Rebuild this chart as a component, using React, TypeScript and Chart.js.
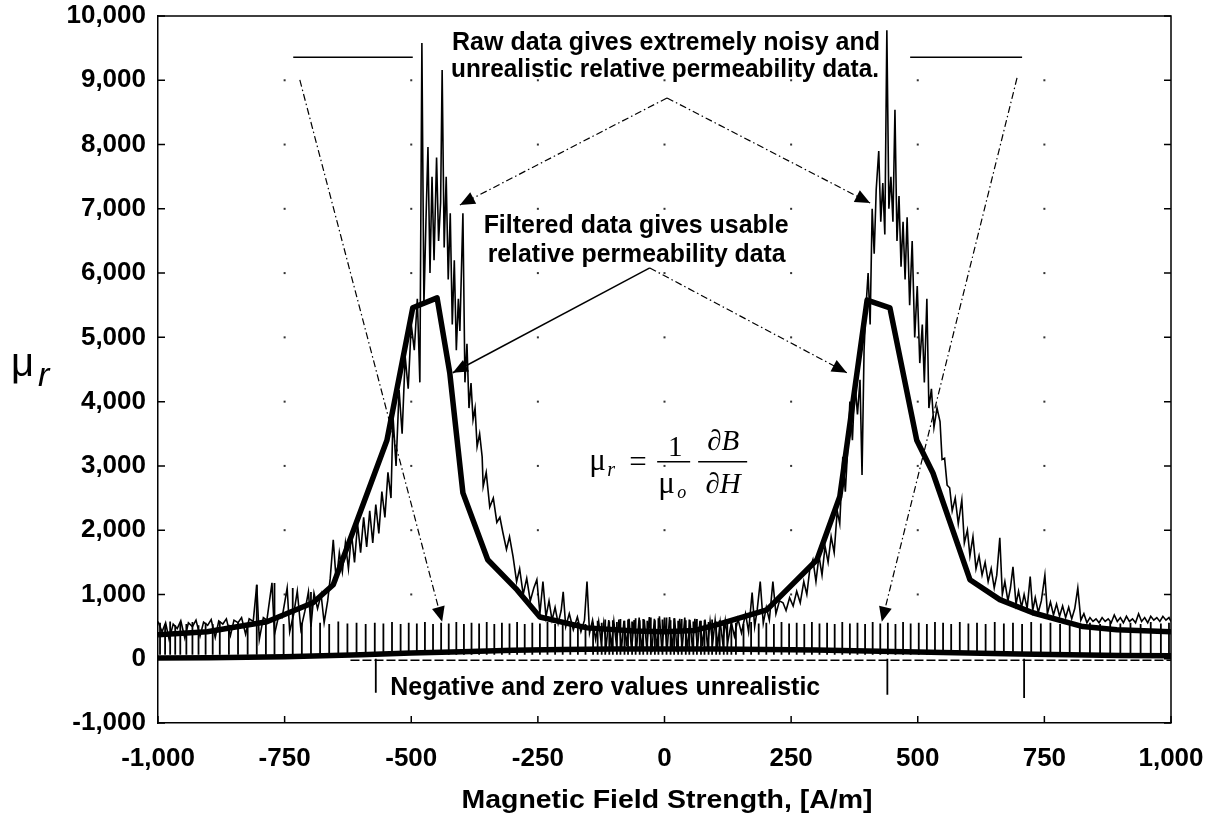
import React, { useEffect, useRef } from 'react';
import { Chart, registerables } from 'chart.js';
Chart.register(...registerables);

// ---------- data ----------
const xTickValues = [-1000, -750, -500, -250, 0, 250, 500, 750, 1000];
const yTickValues = [-1000, 0, 1000, 2000, 3000, 4000, 5000, 6000, 7000, 8000, 9000, 10000];

// filtered relative permeability (thick line)
const filteredH = [-1000, -903, -785, -694, -654, -548, -497, -449, -424, -398, -349, -291, -246, -153, -60, 0, 60, 104, 202, 301, 346, 400, 445, 498, 530, 603, 662, 727, 826, 893, 1000];
const filteredMu = [373, 420, 575, 870, 1150, 3400, 5460, 5615, 4450, 2580, 1540, 1070, 650, 480, 430, 420, 440, 530, 760, 1540, 2520, 5580, 5460, 3400, 2890, 1230, 920, 715, 500, 450, 420];

// smoothed near-zero values (thick line along the bottom)
const lowH = [-1000, -900, -750, -600, -500, -400, -300, -200, -100, 0, 100, 200, 300, 400, 500, 600, 700, 800, 900, 1000];
const lowMu = [10, 15, 30, 60, 90, 110, 130, 145, 150, 150, 150, 145, 135, 120, 105, 90, 75, 60, 50, 45];

// raw (noisy) relative permeability: [H, mu]
const rawPoints: [number, number][] = [
  [-1000, 580], [-992, 420], [-985, 560], [-978, 300], [-970, 540], [-962, 470], [-955, 590], [-947, 320], [-940, 560], [-932, 500],
  [-925, 600], [-917, 350], [-910, 570], [-902, 520], [-895, 610], [-887, 330], [-880, 590], [-872, 540], [-865, 620], [-857, 360],
  [-850, 600], [-842, 560], [-835, 640], [-827, 380], [-820, 620], [-812, 580], [-805, 1150], [-800, 300], [-792, 640], [-785, 600],
  [-775, 1180], [-770, 380], [-762, 660], [-755, 640], [-745, 1100], [-740, 420], [-732, 700], [-725, 1050], [-718, 460], [-710, 740],
  [-703, 1040], [-698, 500], [-692, 1020], [-685, 780], [-678, 1000], [-672, 560], [-665, 900], [-660, 1250],
  [-654, 1850], [-648, 1200], [-642, 1650], [-636, 1350], [-630, 1800], [-624, 1400], [-618, 1950], [-612, 1500], [-606, 2100], [-600, 1650],
  [-594, 2200], [-588, 1740], [-582, 2300], [-576, 1800], [-570, 2400], [-564, 1950], [-558, 2600], [-552, 2200], [-546, 2900], [-540, 2500],
  [-536, 3770], [-530, 3000], [-524, 4180], [-518, 3500], [-512, 4700], [-506, 4200], [-500, 5200], [-494, 4800], [-488, 5600], [-483, 4300],
  [-479, 9580], [-475, 5500], [-471, 6800], [-467, 7960], [-463, 6000], [-459, 7500], [-455, 6200], [-450, 7800], [-446, 6500], [-442, 7100],
  [-439, 9160], [-435, 6400], [-431, 7500], [-427, 5900], [-423, 6930], [-419, 5200], [-415, 6200], [-411, 4800], [-407, 5600], [-404, 5100],
  [-398, 6930], [-394, 4300], [-390, 4900], [-386, 3900], [-382, 4290], [-378, 3720], [-374, 3900], [-370, 3300], [-365, 3500], [-360, 3140],
  [-358, 2680], [-352, 2900], [-345, 2360], [-338, 2500], [-331, 2120], [-325, 2200], [-319, 1960], [-312, 1700], [-306, 1900], [-299, 1590],
  [-292, 1200], [-286, 1400], [-279, 1000], [-272, 1250], [-265, 900], [-258, 1100], [-252, 1230], [-246, 700], [-240, 1200], [-234, 650],
  [-228, 900], [-222, 600], [-216, 800], [-210, 550], [-204, 750], [-200, 1040], [-195, 500], [-188, 700], [-180, 450], [-172, 650],
  [-165, 420], [-158, 600], [-153, 1200], [-148, 400], [-142, 600], [-136, 300], [-130, 580],
  [-125, 250], [-120, 560], [-115, 200], [-110, 600], [-105, 180], [-100, 580], [-95, 220], [-90, 610], [-85, 150], [-80, 590],
  [-75, 200], [-70, 620], [-65, 130], [-60, 600], [-55, 170], [-50, 640], [-45, 120], [-40, 610], [-35, 160], [-30, 650],
  [-25, 100], [-20, 620], [-15, 140], [-10, 660], [-5, 110], [0, 640], [5, 120], [10, 650], [15, 150], [20, 630],
  [25, 100], [30, 620], [35, 170], [40, 640], [45, 130], [50, 600], [55, 180], [60, 620], [65, 160], [70, 590],
  [75, 200], [80, 610], [85, 180], [90, 580], [95, 230], [100, 600], [105, 210], [110, 570], [115, 250], [120, 590], [125, 260],
  [132, 560], [138, 350], [145, 620], [152, 400], [160, 700], [166, 420], [173, 1030], [178, 500], [183, 760], [189, 1200],
  [195, 550], [201, 800], [207, 600], [214, 1200], [220, 700], [227, 900], [234, 870], [240, 750], [247, 950], [254, 820],
  [261, 1050], [268, 870], [275, 1200], [281, 1000], [287, 1400], [293, 1540], [299, 1200], [305, 1600], [311, 1300], [317, 1750],
  [323, 1500], [329, 1900], [335, 1650], [341, 2300], [346, 2100], [352, 3140], [357, 2600], [362, 3300], [366, 4000], [371, 3400],
  [376, 4300], [381, 3800], [386, 4340], [390, 2860], [394, 4800], [398, 5500], [402, 6000], [406, 5200], [410, 7000], [414, 6300],
  [418, 7300], [423, 7900], [427, 6800], [431, 7400], [435, 6600], [439, 9780], [443, 7000], [447, 7500], [451, 6800], [455, 8540],
  [459, 6500], [463, 7200], [467, 6100], [471, 6800], [475, 5900], [479, 6870], [484, 5500], [489, 6500], [494, 5000], [499, 5800],
  [504, 4600], [509, 5200], [513, 4300], [518, 5600], [522, 3900], [527, 4200], [532, 3600], [538, 3900], [544, 3690], [548, 3100],
  [553, 3120], [558, 2700], [563, 2660], [568, 2300], [574, 2500], [580, 2100], [587, 2470], [592, 1800], [598, 2000], [603, 1600],
  [609, 1900], [615, 1400], [621, 1600], [627, 1300], [633, 1500], [639, 1200], [645, 1400], [651, 1100], [656, 1300], [662, 1880],
  [667, 1000], [672, 1200], [678, 900], [683, 1100], [688, 1430], [694, 850], [699, 1050], [705, 800], [710, 1000], [716, 780],
  [722, 1280], [727, 750], [732, 950], [738, 720], [744, 900], [751, 1300], [756, 700], [762, 880], [768, 680], [774, 850],
  [780, 660], [786, 820], [792, 640], [798, 800], [804, 620], [810, 780], [816, 1100], [822, 600], [828, 700], [834, 560],
  [840, 640], [846, 580], [852, 620], [858, 560], [864, 640], [870, 580], [876, 620], [882, 560], [888, 680], [894, 580],
  [900, 640], [906, 560], [912, 660], [918, 580], [924, 620], [930, 560], [936, 700], [942, 580], [948, 640], [954, 560],
  [960, 660], [966, 600], [972, 640], [978, 580], [984, 660], [990, 600], [996, 640], [1000, 580],
];

// comb of raw spikes rising from the near-zero values: [H, top mu]
const combSpikes: [number, number][] = [
  [-996, 560], [-986, 540], [-976, 580], [-966, 520], [-956, 560], [-944, 540], [-932, 570], [-920, 520], [-906, 560], [-892, 540],
  [-878, 580], [-860, 530], [-842, 560], [-823, 540], [-805, 1150], [-787, 560], [-770, 1180], [-752, 540], [-734, 1100], [-716, 560],
  [-698, 1040], [-680, 560], [-662, 540], [-644, 580], [-626, 550], [-608, 560], [-590, 540], [-572, 560], [-555, 550], [-538, 570],
  [-521, 540], [-505, 560], [-489, 550], [-473, 570], [-457, 540], [-441, 560], [-426, 550], [-411, 570], [-396, 540], [-381, 560],
  [-366, 550], [-351, 570], [-336, 540], [-321, 560], [-306, 550], [-291, 570], [-276, 540], [-261, 560], [-246, 550], [-231, 570],
  [-216, 540], [-201, 560], [-186, 550], [-171, 570], [-156, 540], [-141, 560],
  [-132, 590], [-124, 560], [-117, 610], [-109, 580], [-102, 600], [-94, 570], [-87, 620], [-79, 590], [-72, 610], [-64, 580],
  [-57, 630], [-49, 600], [-42, 620], [-34, 590], [-27, 640], [-19, 600], [-12, 630], [-4, 610], [4, 640], [12, 600],
  [19, 630], [27, 590], [34, 620], [42, 600], [49, 610], [57, 580], [64, 620], [72, 590], [79, 600], [87, 570],
  [94, 610], [102, 580], [109, 600], [117, 570], [124, 590], [132, 560],
  [141, 560], [156, 540], [171, 570], [186, 550], [201, 560], [216, 540], [231, 570], [246, 550], [261, 560], [276, 540],
  [291, 570], [306, 550], [321, 560], [336, 540], [351, 570], [366, 550], [381, 560], [396, 540], [411, 570], [426, 550],
  [441, 560], [456, 540], [471, 570], [486, 550], [502, 560], [518, 540], [534, 570], [550, 560], [566, 540], [583, 570],
  [600, 550], [617, 560], [634, 540], [652, 570], [670, 550], [688, 560], [706, 540], [724, 570], [743, 550], [762, 560],
  [781, 540], [800, 570], [820, 550], [840, 560], [860, 540], [880, 570], [900, 550], [920, 560], [940, 540], [960, 570],
  [980, 550], [996, 560],
];
const combBaseMu = 60;

// isolated negative raw values: [H, mu]
const negativeSpikes: [number, number][] = [[-570, -530], [440, -560], [710, -610]];
const negativeDashH = [-620, 1000];
const negativeDashMu = [-25, -25];

// ---------- helpers ----------
const fmt = (v: number) => v.toLocaleString('en-US');

const spikeData = (spikes: [number, number][], base: number) => {
  const out: { x: number; y: number | null }[] = [];
  spikes.forEach(([h, top]) => {
    out.push({ x: h, y: base });
    out.push({ x: h, y: top });
    out.push({ x: h, y: null });
  });
  return out;
};

function centeredText(ctx: CanvasRenderingContext2D, s: string, cx: number, by: number, font: string, width?: number) {
  ctx.save();
  ctx.font = font;
  const w = ctx.measureText(s).width;
  ctx.translate(cx, by);
  if (width) ctx.scale(width / w, 1);
  ctx.textAlign = 'center';
  ctx.textBaseline = 'alphabetic';
  ctx.fillText(s, 0, 0);
  ctx.restore();
}

function arrow(ctx: CanvasRenderingContext2D, x0: number, y0: number, x1: number, y1: number, dash: number[], lw = 1.2) {
  ctx.save();
  ctx.setLineDash(dash);
  ctx.lineWidth = lw;
  ctx.beginPath();
  ctx.moveTo(x0, y0);
  ctx.lineTo(x1, y1);
  ctx.stroke();
  ctx.setLineDash([]);
  const ang = Math.atan2(y1 - y0, x1 - x0);
  const len = 15, half = 6.5;
  ctx.beginPath();
  ctx.moveTo(x1, y1);
  ctx.lineTo(x1 - len * Math.cos(ang) + half * Math.sin(ang), y1 - len * Math.sin(ang) - half * Math.cos(ang));
  ctx.lineTo(x1 - len * Math.cos(ang) - half * Math.sin(ang), y1 - len * Math.sin(ang) + half * Math.cos(ang));
  ctx.closePath();
  ctx.fill();
  ctx.restore();
}

const decorPlugin = {
  id: 'decor',
  beforeDatasetsDraw(chart: any) {
    const { ctx, scales } = chart;
    const X = (v: number) => scales.x.getPixelForValue(v);
    const Y = (v: number) => scales.y.getPixelForValue(v);
    ctx.save();
    ctx.fillStyle = '#333';
    xTickValues.slice(1, -1).forEach((h) => {
      yTickValues.filter((v) => v >= 1000 && v <= 9000).forEach((v) => {
        ctx.fillRect(X(h) - 1, Y(v) - 1, 2, 2);
      });
    });
    ctx.restore();
  },
  afterDatasetsDraw(chart: any) {
    const { ctx, chartArea: a, scales } = chart;
    const X = (v: number) => scales.x.getPixelForValue(v);
    const Y = (v: number) => scales.y.getPixelForValue(v);
    ctx.save();
    ctx.strokeStyle = '#000';
    ctx.fillStyle = '#000';
    // frame top/right
    ctx.lineWidth = 1.5;
    ctx.beginPath();
    ctx.moveTo(a.left, a.top);
    ctx.lineTo(a.right, a.top);
    ctx.lineTo(a.right, a.bottom);
    ctx.stroke();
    // inward tick marks
    yTickValues.forEach((v) => {
      ctx.beginPath();
      ctx.moveTo(a.left, Y(v));
      ctx.lineTo(a.left + 7, Y(v));
      ctx.moveTo(a.right - 7, Y(v));
      ctx.lineTo(a.right, Y(v));
      ctx.stroke();
    });
    xTickValues.forEach((h) => {
      ctx.beginPath();
      ctx.moveTo(X(h), a.bottom);
      ctx.lineTo(X(h), a.bottom - 7);
      ctx.stroke();
    });

    // box segments near the top
    ctx.beginPath();
    ctx.moveTo(X(-733), Y(9360));
    ctx.lineTo(X(-497), Y(9360));
    ctx.moveTo(X(485), Y(9360));
    ctx.lineTo(X(706), Y(9360));
    ctx.stroke();

    // annotation texts
    const bold = 'bold 25px "Liberation Sans", Arial, sans-serif';
    centeredText(ctx, 'Raw data gives extremely noisy and', X(3), Y(9471), bold, 428);
    centeredText(ctx, 'unrealistic relative permeability data.', X(1), Y(9051), bold, 428);
    centeredText(ctx, 'Filtered data gives usable', X(-56), Y(6625), bold, 305);
    centeredText(ctx, 'relative permeability data', X(-55), Y(6174), bold, 298);
    centeredText(ctx, 'Negative and zero values unrealistic', X(-117), Y(-560), bold, 430);

    // arrows
    const dd = [7, 3, 1.5, 3];
    arrow(ctx, X(5), Y(8725), X(-404), Y(7060), dd);
    arrow(ctx, X(5), Y(8725), X(406), Y(7090), dd);
    arrow(ctx, X(-29), Y(6080), X(-418), Y(4450), [], 1.5);
    arrow(ctx, X(-29), Y(6080), X(360), Y(4450), dd);
    arrow(ctx, X(-720), Y(9005), X(-439), Y(575), dd);
    arrow(ctx, X(696), Y(9036), X(429), Y(575), dd);

    // formula  mu_r = (1/mu_o) dB/dH
    const ex = X(-52), ey = Y(3064); // centre of "="
    const serif = '"Liberation Serif", "Times New Roman", serif';
    ctx.textBaseline = 'alphabetic';
    ctx.textAlign = 'left';
    ctx.font = `31px ${serif}`;
    ctx.fillText('\u03BC', ex - 49, ey + 8);
    ctx.font = `italic 20px ${serif}`;
    ctx.fillText('r', ex - 31, ey + 14);
    ctx.font = `31px ${serif}`;
    ctx.fillText('=', ex - 9, ey + 10);
    // fraction bars
    ctx.lineWidth = 1.5;
    ctx.beginPath();
    ctx.moveTo(ex + 19, ey);
    ctx.lineTo(ex + 52, ey);
    ctx.moveTo(ex + 60, ey);
    ctx.lineTo(ex + 109, ey);
    ctx.stroke();
    ctx.textAlign = 'center';
    ctx.font = `29px ${serif}`;
    ctx.fillText('1', ex + 37, ey - 6);
    ctx.textAlign = 'left';
    ctx.font = `31px ${serif}`;
    ctx.fillText('\u03BC', ex + 20, ey + 31);
    ctx.font = `italic 18px ${serif}`;
    ctx.fillText('o', ex + 39, ey + 36);
    ctx.textAlign = 'center';
    ctx.font = `italic 29px ${serif}`;
    ctx.fillText('\u2202B', ex + 85, ey - 12);
    ctx.fillText('\u2202H', ex + 85, ey + 31);

    // axis titles
    ctx.textAlign = 'left';
    ctx.font = '40px "Liberation Sans", Arial, sans-serif';
    ctx.fillText('\u03BC', 11, 376);
    ctx.font = 'italic 34px "Liberation Sans", Arial, sans-serif';
    ctx.fillText('r', 38, 386);
    centeredText(ctx, 'Magnetic Field Strength, [A/m]', 667, 808, 'bold 26px "Liberation Sans", Arial, sans-serif', 411);
    ctx.restore();
  },
};

export default function App() {
  const ref = useRef<HTMLCanvasElement>(null);
  useEffect(() => {
    if (!ref.current) return;
    const tickFont = { family: '"Liberation Sans", Arial, sans-serif', size: 26, weight: 'bold' as const };
    const chart = new Chart(ref.current, {
      type: 'scatter',
      data: {
        datasets: [
          {
            label: 'Filtered',
            data: filteredH.map((h, i) => ({ x: h, y: filteredMu[i] })),
            showLine: true,
            borderColor: '#000',
            borderWidth: 5.5,
            pointRadius: 0,
            borderJoinStyle: 'round',
          },
          {
            label: 'Near zero',
            data: lowH.map((h, i) => ({ x: h, y: lowMu[i] })),
            showLine: true,
            borderColor: '#000',
            borderWidth: 5.5,
            pointRadius: 0,
          },
          {
            label: 'Negative dashed',
            data: negativeDashH.map((h, i) => ({ x: h, y: negativeDashMu[i] })),
            showLine: true,
            borderColor: '#000',
            borderWidth: 1.5,
            borderDash: [9, 3],
            pointRadius: 0,
          },
          {
            label: 'Negative spikes',
            data: spikeData(negativeSpikes, 0),
            showLine: true,
            spanGaps: false,
            borderColor: '#000',
            borderWidth: 1.8,
            pointRadius: 0,
          },
          {
            label: 'Raw',
            data: rawPoints.map(([h, m]) => ({ x: h, y: m })),
            showLine: true,
            borderColor: '#000',
            borderWidth: 1.6,
            pointRadius: 0,
          },
          {
            label: 'Comb',
            data: spikeData(combSpikes, combBaseMu),
            showLine: true,
            spanGaps: false,
            borderColor: '#000',
            borderWidth: 1.8,
            pointRadius: 0,
          },
        ],
      },
      options: {
        responsive: false,
        animation: false,
        layout: { padding: { left: 0, right: 42, top: 16, bottom: 0 } },
        plugins: { legend: { display: false }, tooltip: { enabled: false } },
        scales: {
          x: {
            type: 'linear',
            min: -1000,
            max: 1000,
            afterBuildTicks: (s: any) => { s.ticks = xTickValues.map((v) => ({ value: v })); },
            afterFit: (s: any) => { s.height = 93; s.paddingLeft = 0; s.paddingRight = 0; },
            ticks: { font: tickFont, color: '#000', padding: 20, maxRotation: 0, autoSkip: false, callback: (v: any) => fmt(Number(v)) },
            grid: { drawOnChartArea: false, drawTicks: false },
            border: { display: true, color: '#000', width: 1.5 },
          },
          y: {
            type: 'linear',
            min: -1000,
            max: 10000,
            afterBuildTicks: (s: any) => { s.ticks = yTickValues.map((v) => ({ value: v })); },
            afterFit: (s: any) => { s.width = 158; s.paddingTop = 0; s.paddingBottom = 0; },
            ticks: { font: tickFont, color: '#000', padding: 12, autoSkip: false, callback: (v: any) => fmt(Number(v)) },
            grid: { drawOnChartArea: false, drawTicks: false },
            border: { display: true, color: '#000', width: 1.5 },
          },
        },
      },
      plugins: [decorPlugin],
    });
    return () => chart.destroy();
  }, []);
  return (
    <div style={{ position: 'absolute', left: 0, top: 0, width: 1213, height: 816, background: '#fff' }}>
      <canvas ref={ref} width={1213} height={816} style={{ display: 'block' }} />
    </div>
  );
}
